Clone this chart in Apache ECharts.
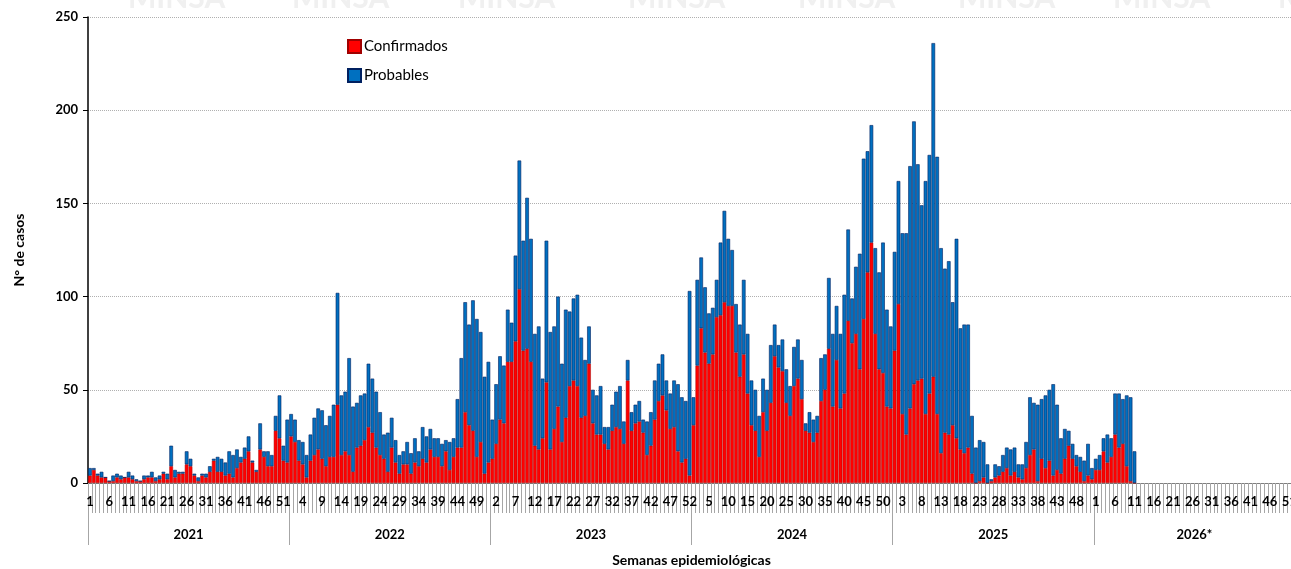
<!DOCTYPE html>
<html>
<head>
<meta charset="utf-8">
<script src="https://cdn.jsdelivr.net/npm/echarts@6/dist/echarts.min.js"></script>
<style>
  html, body { margin: 0; padding: 0; background: #fff; }
  #main { width: 1291px; height: 569px; }
</style>
</head>
<body>
<div id="main"></div>
<script>
// years shown on the second axis row
var years = ['2021', '2022', '2023', '2024', '2025', '2026*'];
var weeksPerYear = 52;

// confirmados / probables per epidemiological week
var conf2021 = [4,7,4,3,3,1,1,3,2,3, 3,2,1,1,2,3,3,1,2,5, 2,9,3,5,5,10,9,4,1,4, 3,6,12,6,6,4,5,3,8,11, 13,17,11,6,18,14,9,9,28,24, 12,11];
var prob2021 = [4,1,1,3,0,0,3,2,2,0, 3,2,1,0,2,1,3,2,2,1, 3,11,4,1,1,7,4,1,2,1, 2,3,1,8,7,7,12,12,10,3, 6,8,1,1,14,3,8,6,8,23, 8,23];

var conf2022 = [25,22,12,10,3,12,15,18,13,9, 14,14,42,15,17,15,6,19,20,23, 30,27,19,15,13,6,19,11,5,10, 10,5,11,9,13,11,18,14,14,9, 17,7,14,19,19,38,31,28,14,22, 5,11];
var prob2022 = [12,12,11,12,12,14,20,22,26,22, 22,28,60,32,32,52,35,24,27,25, 34,29,30,23,13,21,16,12,10,7, 12,11,13,8,17,14,11,10,10,12, 6,15,10,26,48,59,54,70,74,59, 52,54];

var conf2023 = [13,21,34,32,65,65,76,104,71,72, 65,20,18,24,54,18,29,41,22,35, 52,55,52,35,36,64,32,26,26,21, 18,28,30,29,21,55,28,32,33,27, 15,20,34,44,47,39,29,30,17,11, 13,4];
var prob2023 = [21,32,34,31,28,21,46,69,59,81, 66,60,66,32,76,63,55,59,42,58, 40,44,49,43,30,20,18,21,26,9, 12,14,19,23,12,11,10,10,11,7, 18,18,21,20,22,16,19,25,36,35, 31,99];

var conf2024 = [31,63,83,70,64,69,89,90,97,95, 95,70,57,69,48,31,28,14,38,28, 43,68,62,60,43,36,52,56,45,28, 27,22,27,44,50,72,41,66,40,48, 87,75,80,61,88,113,129,80,61,59, 41,40];
var prob2024 = [15,46,38,35,27,25,20,39,49,36, 30,26,28,40,32,24,22,22,18,22, 31,17,12,17,18,16,21,21,21,4, 11,12,9,23,19,38,39,29,40,53, 49,24,36,62,86,65,63,46,52,70, 52,44];

var conf2025 = [71,96,37,26,40,53,55,56,37,48, 57,37,16,27,26,31,24,18,16,19, 5,0,1,3,0,1,3,4,6,8, 4,6,3,2,8,15,18,1,13,8, 12,4,7,5,13,20,13,9,6,1, 4,2];
var prob2025 = [53,66,97,108,130,141,116,93,125,128, 179,138,110,88,93,66,107,65,69,66, 31,19,22,19,10,1,7,5,9,11, 14,13,7,8,14,31,25,41,32,39, 38,49,35,19,16,8,8,6,8,11, 17,6];

var conf2026 = [7,7,17,11,14,26,19,21,9,1,0];
var prob2026 = [6,8,7,15,10,22,29,24,38,45,17];

// week labels 1..52 for every year
var weekLabels = [];
for (var y = 0; y < years.length; y++) {
  for (var w = 1; w <= weeksPerYear; w++) weekLabels.push(String(w));
}

var confirmados = conf2021.concat(conf2022, conf2023, conf2024, conf2025, conf2026);
var probables = prob2021.concat(prob2022, prob2023, prob2024, prob2025, prob2026);

var font = 'Lato, "Liberation Sans", sans-serif';

// faint watermark along the top edge
var marks = [];
[128, 292, 458, 628, 798, 958, 1113, 1278].forEach(function (x) {
  marks.push({
    type: 'text', left: x, top: -17, silent: true,
    style: { text: 'MINSA', fill: '#f0f0f0', font: 'bold 30px ' + font }
  });
});

var option = {
  animation: false,
  textStyle: { fontFamily: font },
  graphic: marks,
  grid: { left: 88, right: -4, top: 17, bottom: 86, outerBoundsMode: 'none' },
  legend: {
    left: 342, top: 34, orient: 'vertical', itemGap: 14,
    itemWidth: 13, itemHeight: 13, icon: 'rect',
    textStyle: { fontSize: 15, color: '#000', fontFamily: font, padding: [0, 0, 0, -2] },
    data: ['Confirmados', 'Probables']
  },
  xAxis: [
    {
      type: 'category',
      data: weekLabels,
      axisLine: { lineStyle: { color: '#7f7f7f', width: 1 } },
      axisTick: { show: true, interval: 0, length: 30, lineStyle: { color: '#a6a6a6' } },
      axisLabel: { interval: 4, margin: 12, fontSize: 13, fontWeight: 'bold', color: '#000', fontFamily: font },
      splitLine: { show: false }
    },
    {
      type: 'category',
      data: years,
      position: 'bottom',
      offset: 30,
      axisLine: { show: false },
      axisTick: { show: true, interval: 0, length: 32, lineStyle: { color: '#a6a6a6' } },
      axisLabel: { margin: 15, fontSize: 13, fontWeight: 'bold', color: '#000', fontFamily: font },
      name: 'Semanas epidemiológicas',
      nameLocation: 'middle',
      nameGap: 40,
      nameTextStyle: { fontSize: 14, fontWeight: 'bold', color: '#000', fontFamily: font }
    }
  ],
  yAxis: {
    type: 'value',
    min: 0, max: 250, interval: 50,
    name: 'N° de casos',
    nameLocation: 'middle',
    nameGap: 62,
    nameTextStyle: { fontSize: 14, fontWeight: 'bold', color: '#000', fontFamily: font },
    axisLine: { show: true, lineStyle: { color: '#000', width: 1.5 } },
    axisTick: { show: true, length: 5, lineStyle: { color: '#000' } },
    axisLabel: { fontSize: 13, fontWeight: 'bold', color: '#000', margin: 10, fontFamily: font },
    splitLine: { lineStyle: { type: 'dotted', color: '#b0b0b0' } }
  },
  series: [
    {
      name: 'Confirmados',
      type: 'bar',
      stack: 'casos',
      xAxisIndex: 0,
      barCategoryGap: '6%',
      data: confirmados,
      itemStyle: { color: '#ff0000', borderColor: '#a00000', borderWidth: 0.5 }
    },
    {
      name: 'Probables',
      type: 'bar',
      stack: 'casos',
      xAxisIndex: 0,
      barCategoryGap: '6%',
      data: probables,
      itemStyle: { color: '#0070c0', borderColor: '#002060', borderWidth: 0.6 }
    }
  ]
};

var myChart = echarts.init(document.getElementById('main'));
myChart.setOption(option);
</script>
</body>
</html>
